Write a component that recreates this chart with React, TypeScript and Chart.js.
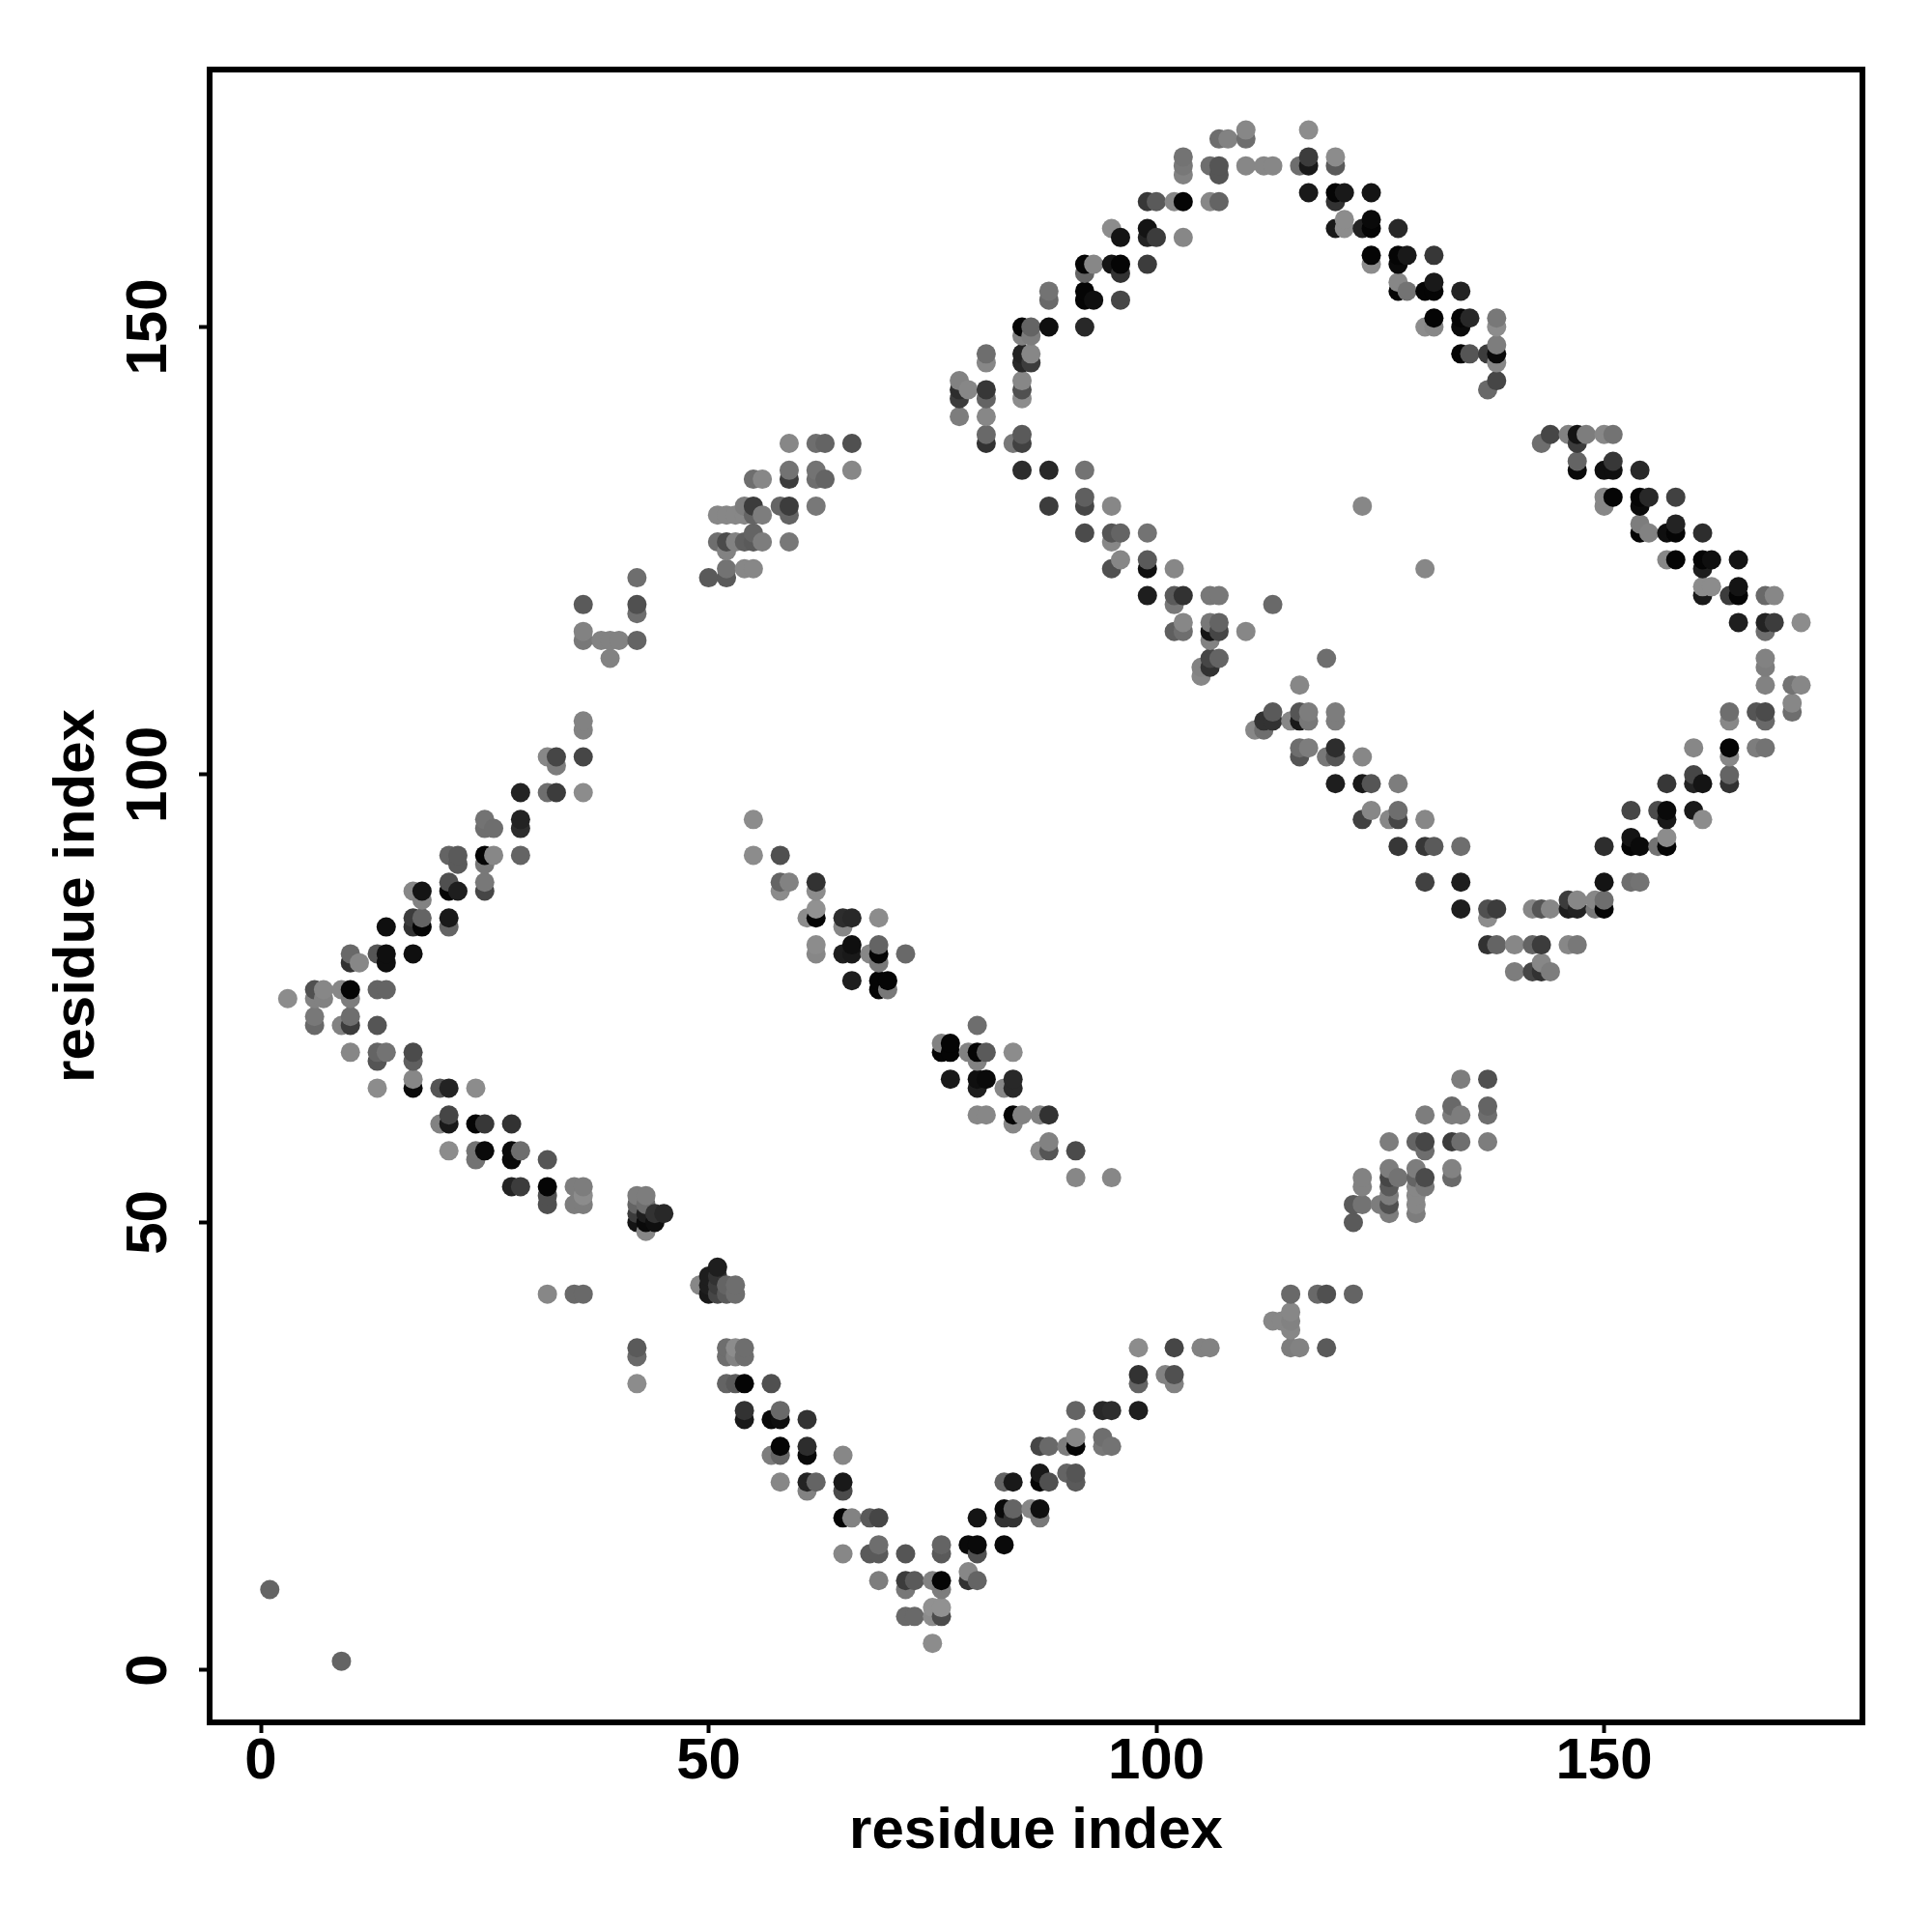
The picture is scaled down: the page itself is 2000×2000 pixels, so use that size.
import React, { useEffect, useRef } from "react";
import { Chart, registerables } from "chart.js";

Chart.register(...registerables);

// each contact: [residue index, residue index, grey level of the mark]
type Contact = [number, number, number];

const xTickValues = [0, 50, 100, 150];
const yTickValues = [0, 50, 100, 150];
const axisTitle = "residue index";

const isolated: Contact[] = [[1, 9, 100], [9, 1, 100], [123, 130, 135], [130, 123, 135], [32, 42, 135], [35, 42, 105], [36, 42, 105], [42, 36, 90], [42, 35, 105], [42, 32, 140]];

const leftArmUpper: Contact[] = [
  [36, 106, 130], [36, 105, 130], [32, 102, 135], [33, 102, 70], [36, 102, 70], [33, 101, 125],
  [29, 98, 35], [32, 98, 110], [33, 98, 60], [36, 98, 140],
  [25, 95, 115], [29, 95, 35], [25, 94, 110], [26, 94, 110], [29, 94, 45],
  [21, 91, 100], [22, 91, 90], [25, 91, 5], [26, 91, 135], [29, 91, 100], [22, 90, 90], [25, 90, 120],
  [21, 88, 80], [25, 88, 120], [17, 87, 135], [18, 87, 20], [21, 87, 5], [22, 87, 30], [25, 87, 70], [18, 86, 130],
  [17, 84, 60], [18, 84, 100], [21, 84, 25], [14, 83, 15], [17, 83, 50], [18, 83, 5], [21, 83, 100],
  [10, 80, 105], [13, 80, 85], [14, 80, 15], [17, 80, 15], [10, 79, 50], [11, 79, 135], [14, 79, 15],
  [6, 76, 80], [7, 76, 135], [9, 76, 135], [10, 76, 5], [13, 76, 100], [14, 76, 100],
  [3, 75, 140], [6, 75, 130], [7, 75, 130], [10, 75, 125],
];

const leftArmLower: Contact[] = [
  [6, 73, 120], [10, 73, 110], [6, 72, 105], [9, 72, 130], [10, 72, 60], [13, 72, 85],
  [10, 69, 135], [13, 69, 100], [14, 69, 115], [17, 69, 75], [13, 68, 85], [17, 68, 95], [17, 66, 135],
  [13, 65, 140], [17, 65, 10], [20, 65, 85], [21, 65, 35], [24, 65, 140], [21, 62, 70],
  [20, 61, 130], [21, 61, 25], [24, 61, 5], [25, 61, 55], [28, 61, 50],
  [21, 58, 140], [24, 58, 115], [25, 58, 10], [28, 58, 10], [29, 58, 110], [24, 57, 115], [28, 57, 10], [32, 57, 85],
  [28, 54, 35], [29, 54, 60], [32, 54, 5], [35, 54, 125], [36, 54, 125], [32, 53, 80], [36, 53, 140], [32, 52, 80], [35, 52, 125], [36, 52, 125],
];

const turnClusters: Contact[] = [
  [42, 53, 125], [43, 53, 125], [42, 52, 100], [43, 52, 110], [42, 51, 60], [43, 51, 30], [44, 51, 50], [45, 51, 40], [42, 50, 20], [43, 50, 10], [44, 50, 15], [43, 49, 135],
  [51, 45, 30], [50, 44, 30], [51, 44, 50], [49, 43, 135], [50, 43, 30], [51, 43, 60], [52, 43, 100], [53, 43, 110], [50, 42, 25], [51, 42, 70], [52, 42, 90], [53, 42, 110],
];

const lowerVDown: Contact[] = [
  [52, 36, 110], [53, 36, 140], [54, 36, 110], [52, 35, 110], [53, 35, 130], [54, 35, 110], [52, 32, 100], [53, 32, 90], [54, 32, 5], [57, 32, 80],
  [54, 29, 50], [58, 29, 105], [54, 28, 25], [57, 28, 10], [58, 28, 15], [61, 28, 50], [58, 25, 5], [61, 25, 45],
  [57, 24, 125], [58, 24, 100], [61, 24, 10], [65, 24, 135], [58, 21, 135], [61, 21, 35], [62, 21, 100], [65, 21, 25], [61, 20, 130], [65, 20, 75],
  [65, 17, 5], [66, 17, 130], [68, 17, 90], [69, 17, 70], [69, 14, 110], [76, 14, 100],
  [65, 13, 135], [68, 13, 90], [69, 13, 90], [72, 13, 85], [76, 13, 90],
  [69, 10, 125], [72, 10, 60], [73, 10, 90], [75, 10, 130], [76, 10, 5], [72, 9, 120], [76, 9, 125], [75, 7, 145], [76, 7, 145], [72, 6, 105], [73, 6, 105], [75, 6, 140], [76, 6, 75], [75, 3, 140],
];

const lowerVUp: Contact[] = [
  [98, 36, 140], [102, 36, 70], [105, 36, 130], [106, 36, 130], [98, 33, 50], [101, 33, 130], [102, 33, 80], [98, 32, 100], [102, 32, 130],
  [91, 29, 100], [94, 29, 40], [95, 29, 45], [98, 29, 30],
  [91, 26, 135], [94, 26, 110], [87, 25, 70], [88, 25, 105], [90, 25, 125], [91, 25, 5], [94, 25, 120], [95, 25, 115],
  [87, 22, 25], [90, 22, 100], [91, 22, 85], [83, 21, 100], [84, 21, 25], [87, 21, 5], [88, 21, 80], [91, 21, 90],
  [83, 18, 10], [84, 18, 100], [86, 18, 135], [87, 18, 15], [80, 17, 20], [83, 17, 50], [84, 17, 50], [87, 17, 120],
  [79, 14, 10], [80, 14, 10], [83, 14, 10], [80, 13, 80], [79, 11, 135], [79, 10, 50], [80, 10, 100],
];

const centreStrandA: Contact[] = [
  [55, 95, 140], [55, 91, 140], [58, 91, 80], [58, 88, 100], [59, 88, 130], [62, 88, 50], [58, 87, 140], [62, 87, 140], [62, 85, 145],
  [61, 84, 140], [62, 84, 5], [65, 84, 45], [66, 84, 40], [69, 84, 140], [65, 83, 135], [62, 81, 140], [66, 81, 15], [69, 81, 100],
  [62, 80, 135], [65, 80, 30], [66, 80, 25], [68, 80, 135], [69, 80, 5], [72, 80, 105], [69, 79, 120], [66, 77, 30], [69, 77, 5], [70, 77, 5], [69, 76, 5], [70, 76, 120],
];

const centreStrandB: Contact[] = [
  [80, 72, 110], [76, 70, 130], [77, 70, 5], [76, 69, 5], [77, 69, 5], [79, 69, 130], [80, 69, 5], [81, 69, 90], [84, 69, 140], [80, 68, 130],
  [77, 66, 25], [80, 66, 15], [81, 66, 10], [84, 66, 40], [80, 65, 30], [83, 65, 135], [84, 65, 40],
  [80, 62, 135], [81, 62, 135], [84, 62, 5], [85, 62, 130], [87, 62, 130], [88, 62, 50], [84, 61, 135], [88, 59, 130], [87, 58, 140], [88, 58, 85], [91, 58, 75], [91, 55, 135], [95, 55, 135],
];

const lowerRightBand: Contact[] = [
  [134, 66, 125], [137, 66, 80], [133, 63, 105], [137, 63, 100], [130, 62, 125], [133, 62, 125], [134, 62, 125], [137, 62, 110],
  [126, 59, 125], [129, 59, 100], [130, 59, 70], [133, 59, 60], [134, 59, 110], [137, 59, 125], [130, 58, 110],
  [126, 56, 125], [129, 56, 125], [133, 56, 130], [123, 55, 130], [126, 55, 70], [127, 55, 115], [129, 55, 100], [130, 55, 75], [133, 55, 105],
  [123, 54, 130], [126, 54, 90], [129, 54, 135], [130, 54, 120], [126, 53, 125], [129, 53, 135], [122, 52, 90], [123, 52, 115], [125, 52, 125], [126, 52, 80], [129, 52, 135], [126, 51, 125], [129, 51, 125], [122, 50, 90],
  [115, 42, 105], [118, 42, 105], [119, 42, 80], [122, 42, 100], [115, 40, 135], [113, 39, 135], [114, 39, 135], [115, 39, 130], [115, 38, 135], [115, 36, 125], [116, 36, 130], [119, 36, 90],
];

const upperLeftBand: Contact[] = [
  [59, 137, 135], [62, 137, 110], [63, 137, 100], [66, 137, 80], [59, 134, 115], [62, 134, 115], [66, 134, 135],
  [55, 133, 110], [56, 133, 135], [59, 133, 60], [62, 133, 110], [63, 133, 100],
  [54, 130, 125], [55, 130, 60], [58, 130, 100], [59, 130, 60], [62, 130, 120],
  [51, 129, 135], [52, 129, 135], [53, 129, 135], [54, 129, 135], [55, 129, 100], [56, 129, 125], [59, 129, 100], [55, 127, 100],
  [51, 126, 110], [52, 126, 75], [53, 126, 130], [54, 126, 95], [55, 126, 90], [56, 126, 125], [59, 126, 120], [52, 125, 130],
  [52, 123, 115], [54, 123, 135], [55, 123, 135], [50, 122, 90], [52, 122, 90], [42, 122, 110],
  [36, 119, 90], [42, 119, 80], [42, 118, 110], [36, 116, 130], [36, 115, 120], [38, 115, 130], [39, 115, 130], [40, 115, 130], [42, 115, 100], [39, 113, 130],
];

const topArcLeft: Contact[] = [
  [110, 172, 135], [107, 171, 110], [108, 171, 130], [110, 171, 110],
  [103, 169, 115], [103, 168, 120], [106, 168, 110], [107, 168, 85], [110, 168, 135], [103, 167, 130], [107, 167, 85],
  [99, 164, 55], [100, 164, 90], [102, 164, 135], [103, 164, 5], [106, 164, 135], [107, 164, 100],
  [95, 161, 140], [99, 161, 20], [96, 160, 20], [99, 160, 35], [100, 160, 60], [103, 160, 135],
  [92, 157, 5], [93, 157, 135], [95, 157, 20], [96, 157, 5], [99, 157, 60], [92, 156, 100], [96, 156, 50],
  [88, 154, 115], [92, 154, 5], [88, 153, 105], [92, 153, 5], [93, 153, 15], [96, 153, 70],
  [85, 150, 5], [86, 150, 100], [88, 150, 15], [92, 150, 40], [85, 149, 130], [86, 149, 125],
  [85, 147, 35], [86, 147, 135], [81, 147, 110], [85, 146, 40], [86, 146, 60], [81, 146, 135],
  [85, 144, 135], [78, 144, 130], [79, 143, 135], [78, 143, 45], [81, 143, 55], [85, 143, 80], [78, 142, 60], [81, 142, 100], [85, 142, 140], [78, 140, 125], [81, 140, 135],
  [81, 138, 105], [85, 138, 90], [81, 137, 50], [84, 137, 120], [85, 137, 65],
];

const topArcRight: Contact[] = [
  [117, 172, 140], [117, 169, 60], [120, 169, 140], [112, 168, 135], [113, 168, 135], [116, 168, 110], [117, 168, 25], [120, 168, 90],
  [117, 165, 25], [120, 165, 5], [121, 165, 25], [124, 165, 20], [120, 164, 50],
  [121, 162, 140], [124, 162, 10], [120, 161, 25], [121, 161, 140], [123, 161, 35], [124, 161, 5], [127, 161, 40],
  [124, 158, 5], [127, 158, 5], [128, 158, 25], [131, 158, 55], [124, 157, 140], [127, 157, 10],
  [127, 155, 135], [131, 155, 25], [127, 154, 5], [128, 154, 115], [130, 154, 5], [131, 154, 5], [134, 154, 35],
  [131, 151, 5], [134, 151, 5], [135, 151, 40], [138, 151, 120], [130, 150, 140], [131, 150, 135], [134, 150, 10], [138, 150, 140],
  [138, 148, 125], [134, 147, 5], [135, 147, 85], [137, 147, 60], [138, 147, 10], [138, 146, 135], [138, 144, 70], [137, 143, 105],
];

const rightArmUpper: Contact[] = [
  [144, 138, 70], [146, 138, 130], [147, 138, 20], [148, 138, 125], [150, 138, 135], [151, 138, 115], [143, 137, 110], [147, 137, 60],
  [147, 135, 100], [151, 135, 55], [147, 134, 10], [150, 134, 15], [151, 134, 15], [154, 134, 40],
  [150, 131, 135], [151, 131, 5], [154, 131, 5], [155, 131, 40], [158, 131, 65], [150, 130, 135], [154, 130, 10],
  [154, 128, 125], [158, 128, 35], [154, 127, 5], [155, 127, 130], [157, 127, 15], [158, 127, 5], [161, 127, 45],
  [157, 124, 135], [158, 124, 5], [161, 124, 5], [162, 124, 15], [165, 124, 20], [161, 123, 30],
  [161, 121, 140], [162, 121, 140], [165, 121, 20], [161, 120, 25], [164, 120, 60], [165, 120, 5], [168, 120, 105], [169, 120, 135],
  [165, 117, 30], [168, 117, 35], [169, 117, 60], [172, 117, 140], [168, 116, 110],
  [168, 113, 130], [168, 112, 125], [168, 110, 130], [171, 110, 115], [172, 110, 135], [171, 108, 135],
];

const rightArmLower: Contact[] = [
  [164, 107, 110], [167, 107, 85], [168, 107, 75], [171, 107, 110], [164, 106, 135], [168, 106, 105],
  [160, 103, 135], [164, 103, 5], [167, 103, 125], [168, 103, 115], [164, 102, 135],
  [160, 100, 70], [164, 100, 100], [157, 99, 55], [160, 99, 35], [161, 99, 20], [164, 99, 50],
  [153, 96, 70], [156, 96, 75], [157, 96, 10], [160, 96, 25], [157, 95, 25], [161, 95, 140],
  [153, 93, 20], [157, 93, 140], [150, 92, 45], [153, 92, 5], [154, 92, 10], [156, 92, 115], [157, 92, 5],
  [150, 88, 20], [153, 88, 110], [154, 88, 115],
  [146, 86, 60], [147, 86, 135], [149, 86, 135], [150, 86, 110],
  [142, 85, 135], [143, 85, 85], [144, 85, 135], [146, 85, 30], [147, 85, 35], [149, 85, 120], [150, 85, 5],
  [137, 85, 80], [138, 85, 60], [137, 84, 140],
  [137, 81, 50], [138, 81, 100], [140, 81, 135], [142, 81, 100], [143, 81, 60], [146, 81, 135], [147, 81, 120],
  [143, 79, 135], [140, 78, 125], [142, 78, 70], [143, 78, 50], [144, 78, 125],
];

const innerBand: Contact[] = [
  [85, 134, 45], [88, 134, 40], [92, 134, 115], [92, 131, 95], [95, 130, 135], [88, 130, 60], [92, 130, 70],
  [92, 127, 75], [95, 127, 85], [96, 127, 100], [99, 127, 115], [95, 126, 135], [96, 124, 135], [99, 124, 90],
  [95, 123, 80], [99, 123, 15], [102, 123, 135],
  [99, 120, 30], [102, 120, 90], [103, 120, 50], [106, 120, 120], [107, 120, 120], [102, 119, 120], [113, 119, 105],
  [103, 117, 135], [106, 117, 120], [107, 117, 100], [102, 116, 95], [103, 116, 110], [106, 116, 20], [107, 116, 70], [110, 116, 135], [106, 115, 130],
  [106, 113, 70], [107, 113, 100], [119, 113, 110], [105, 112, 130], [106, 112, 50], [105, 111, 135], [116, 110, 135],
  [113, 107, 90], [116, 107, 85], [117, 107, 125], [120, 107, 125],
  [112, 106, 50], [113, 106, 50], [115, 106, 135], [116, 106, 25], [117, 106, 120], [120, 106, 125], [111, 105, 135], [112, 105, 110],
  [116, 103, 110], [117, 103, 125], [120, 103, 45], [116, 102, 85], [119, 102, 120], [120, 102, 85], [123, 102, 135],
  [120, 99, 30], [123, 99, 25], [124, 99, 85], [127, 99, 125], [124, 96, 135], [127, 96, 110],
  [123, 95, 65], [126, 95, 135], [127, 95, 70], [130, 95, 135], [127, 92, 55], [130, 92, 55], [131, 92, 90], [134, 92, 110],
  [130, 88, 65], [134, 88, 30], [134, 85, 30],
];

const contacts: Contact[] = [
  ...isolated, ...leftArmUpper, ...leftArmLower, ...turnClusters, ...lowerVDown, ...lowerVUp,
  ...centreStrandA, ...centreStrandB, ...lowerRightBand, ...upperLeftBand, ...topArcLeft,
  ...topArcRight, ...rightArmUpper, ...rightArmLower, ...innerBand,
].sort((a, b) => a[0] - b[0] || a[1] - b[1]);

const tickFont = { family: "'Liberation Sans', Arial, sans-serif", size: 60, weight: "bold" as const };
const titleFont = { family: "'Liberation Sans', Arial, sans-serif", size: 60, weight: "bold" as const };

const frame = {
  id: "frame",
  afterDatasetsDraw(chart: any) {
    const { ctx, chartArea: a } = chart;
    ctx.save();
    ctx.strokeStyle = "#000";
    ctx.lineWidth = 6;
    ctx.strokeRect(a.left, a.top, a.right - a.left, a.bottom - a.top);
    ctx.restore();
  },
};

export default function App() {
  const ref = useRef<HTMLCanvasElement>(null);
  useEffect(() => {
    const chart = new Chart(ref.current as HTMLCanvasElement, {
      type: "scatter",
      data: {
        datasets: [
          {
            data: contacts.map((c) => ({ x: c[0], y: c[1] })),
            pointRadius: 10,
            pointBorderWidth: 0,
            pointBackgroundColor: contacts.map((c) => `rgb(${c[2]},${c[2]},${c[2]})`),
          },
        ],
      },
      options: {
        animation: false,
        responsive: false,
        devicePixelRatio: 1,
        layout: { padding: { top: 72, right: 72, left: 0, bottom: 0 } },
        plugins: { legend: { display: false }, tooltip: { enabled: false } },
        scales: {
          x: {
            type: "linear",
            min: -5.72,
            max: 178.85,
            afterFit: (s: any) => { s.height = 217; },
            afterBuildTicks: (s: any) => { s.ticks = xTickValues.map((value) => ({ value })); },
            border: { display: false },
            grid: { drawOnChartArea: false, drawTicks: true, tickLength: 11, tickWidth: 4, tickColor: "#000" },
            ticks: { color: "#000", font: tickFont, maxRotation: 0, minRotation: 0, padding: -6, autoSkip: false },
            title: { display: true, text: axisTitle, color: "#000", font: titleFont, padding: { top: 68, bottom: 68 } },
          },
          y: {
            type: "linear",
            min: -5.83,
            max: 178.75,
            afterFit: (s: any) => { s.width = 217; },
            afterBuildTicks: (s: any) => { s.ticks = yTickValues.map((value) => ({ value })); },
            border: { display: false },
            grid: { drawOnChartArea: false, drawTicks: true, tickLength: 11, tickWidth: 4, tickColor: "#000" },
            ticks: { color: "#000", font: tickFont, minRotation: 90, maxRotation: 90, crossAlign: "center", padding: 0, autoSkip: false },
            title: { display: true, text: axisTitle, color: "#000", font: titleFont, padding: { top: 44, bottom: 44 } },
          },
        },
      },
      plugins: [frame],
    } as any);
    return () => chart.destroy();
  }, []);
  return (
    <canvas
      ref={ref}
      width={2000}
      height={2000}
      style={{ position: "absolute", left: 0, top: 0, width: 2000, height: 2000, display: "block" }}
    />
  );
}
